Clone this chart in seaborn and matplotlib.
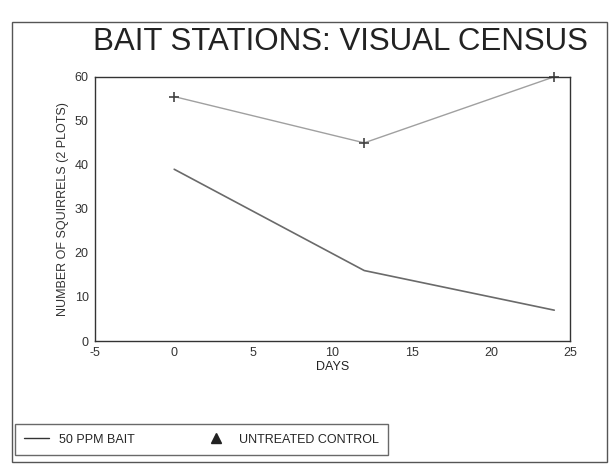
import numpy as np
import pandas as pd
import matplotlib.pyplot as plt
import seaborn as sb
from matplotlib.lines import Line2D
from matplotlib.patches import Rectangle

#%% Daten
days = [0, 12, 24]
bait_50ppm = [39, 16, 7]
control = [55.5, 45, 60]

xticks = [-5, 0, 5, 10, 15, 20, 25]
yticks = [0, 10, 20, 30, 40, 50, 60]

df = pd.DataFrame({
    'DAYS': days * 2,
    'N': bait_50ppm + control,
    'Gruppe': ['50 PPM BAIT'] * 3 + ['UNTREATED CONTROL'] * 3,
})

#%% Plot
sb.set_style('white')
plt.rcParams['font.family'] = ['Liberation Sans', 'DejaVu Sans']
plt.rcParams['axes.unicode_minus'] = False

fig = plt.figure(figsize=(6.13, 4.71), dpi=100)
ax = fig.add_axes([0.155, 0.276, 0.775, 0.561])

sb.lineplot(data=df[df.Gruppe == '50 PPM BAIT'], x='DAYS', y='N', ax=ax,
            color='#6a6a6a', lw=1.2, legend=False)
sb.lineplot(data=df[df.Gruppe == 'UNTREATED CONTROL'], x='DAYS', y='N', ax=ax,
            color='#a0a0a0', lw=1.0, marker='+', ms=7, mec='#444444', mew=1.2,
            legend=False, clip_on=False)

ax.set_xlim(-5, 25)
ax.set_ylim(0, 60)
ax.set_xticks(xticks)
ax.set_yticks(yticks)
ax.tick_params(direction='inout', length=5, width=0.8, labelsize=9, pad=2,
               colors='#333333')
for s in ax.spines.values():
    s.set_color('#333333')
    s.set_linewidth(1.0)
ax.set_xlabel('DAYS', fontsize=9, color='#222222', labelpad=1)
ax.set_ylabel('NUMBER OF SQUIRRELS (2 PLOTS)', fontsize=9, color='#333333', labelpad=4)

fig.text(0.555, 0.91, 'BAIT STATIONS: VISUAL CENSUS', ha='center', va='center',
         fontsize=22.5, color='#222222')

# Rahmen
fig.add_artist(Rectangle((12/613, 1-462/471), (607-12)/613, (462-22)/471,
                         transform=fig.transFigure, fill=False,
                         ec='#555555', lw=1.0))

handles = [Line2D([], [], color='#333333', lw=1.0),
           Line2D([], [], color='#222222', marker='^', ls='', ms=7)]
leg = fig.legend(handles, ['50 PPM BAIT', 'UNTREATED CONTROL'], ncol=2,
                 loc='lower left', bbox_to_anchor=(15/613, 1-455/471),
                 borderaxespad=0, frameon=True, fancybox=False, fontsize=9,
                 handlelength=2.0, columnspacing=5.5, borderpad=0.75,
                 handletextpad=0.8)
leg.get_frame().set_edgecolor('#444444')
leg.get_frame().set_linewidth(1.0)

fig.savefig('out.png', dpi=100)
